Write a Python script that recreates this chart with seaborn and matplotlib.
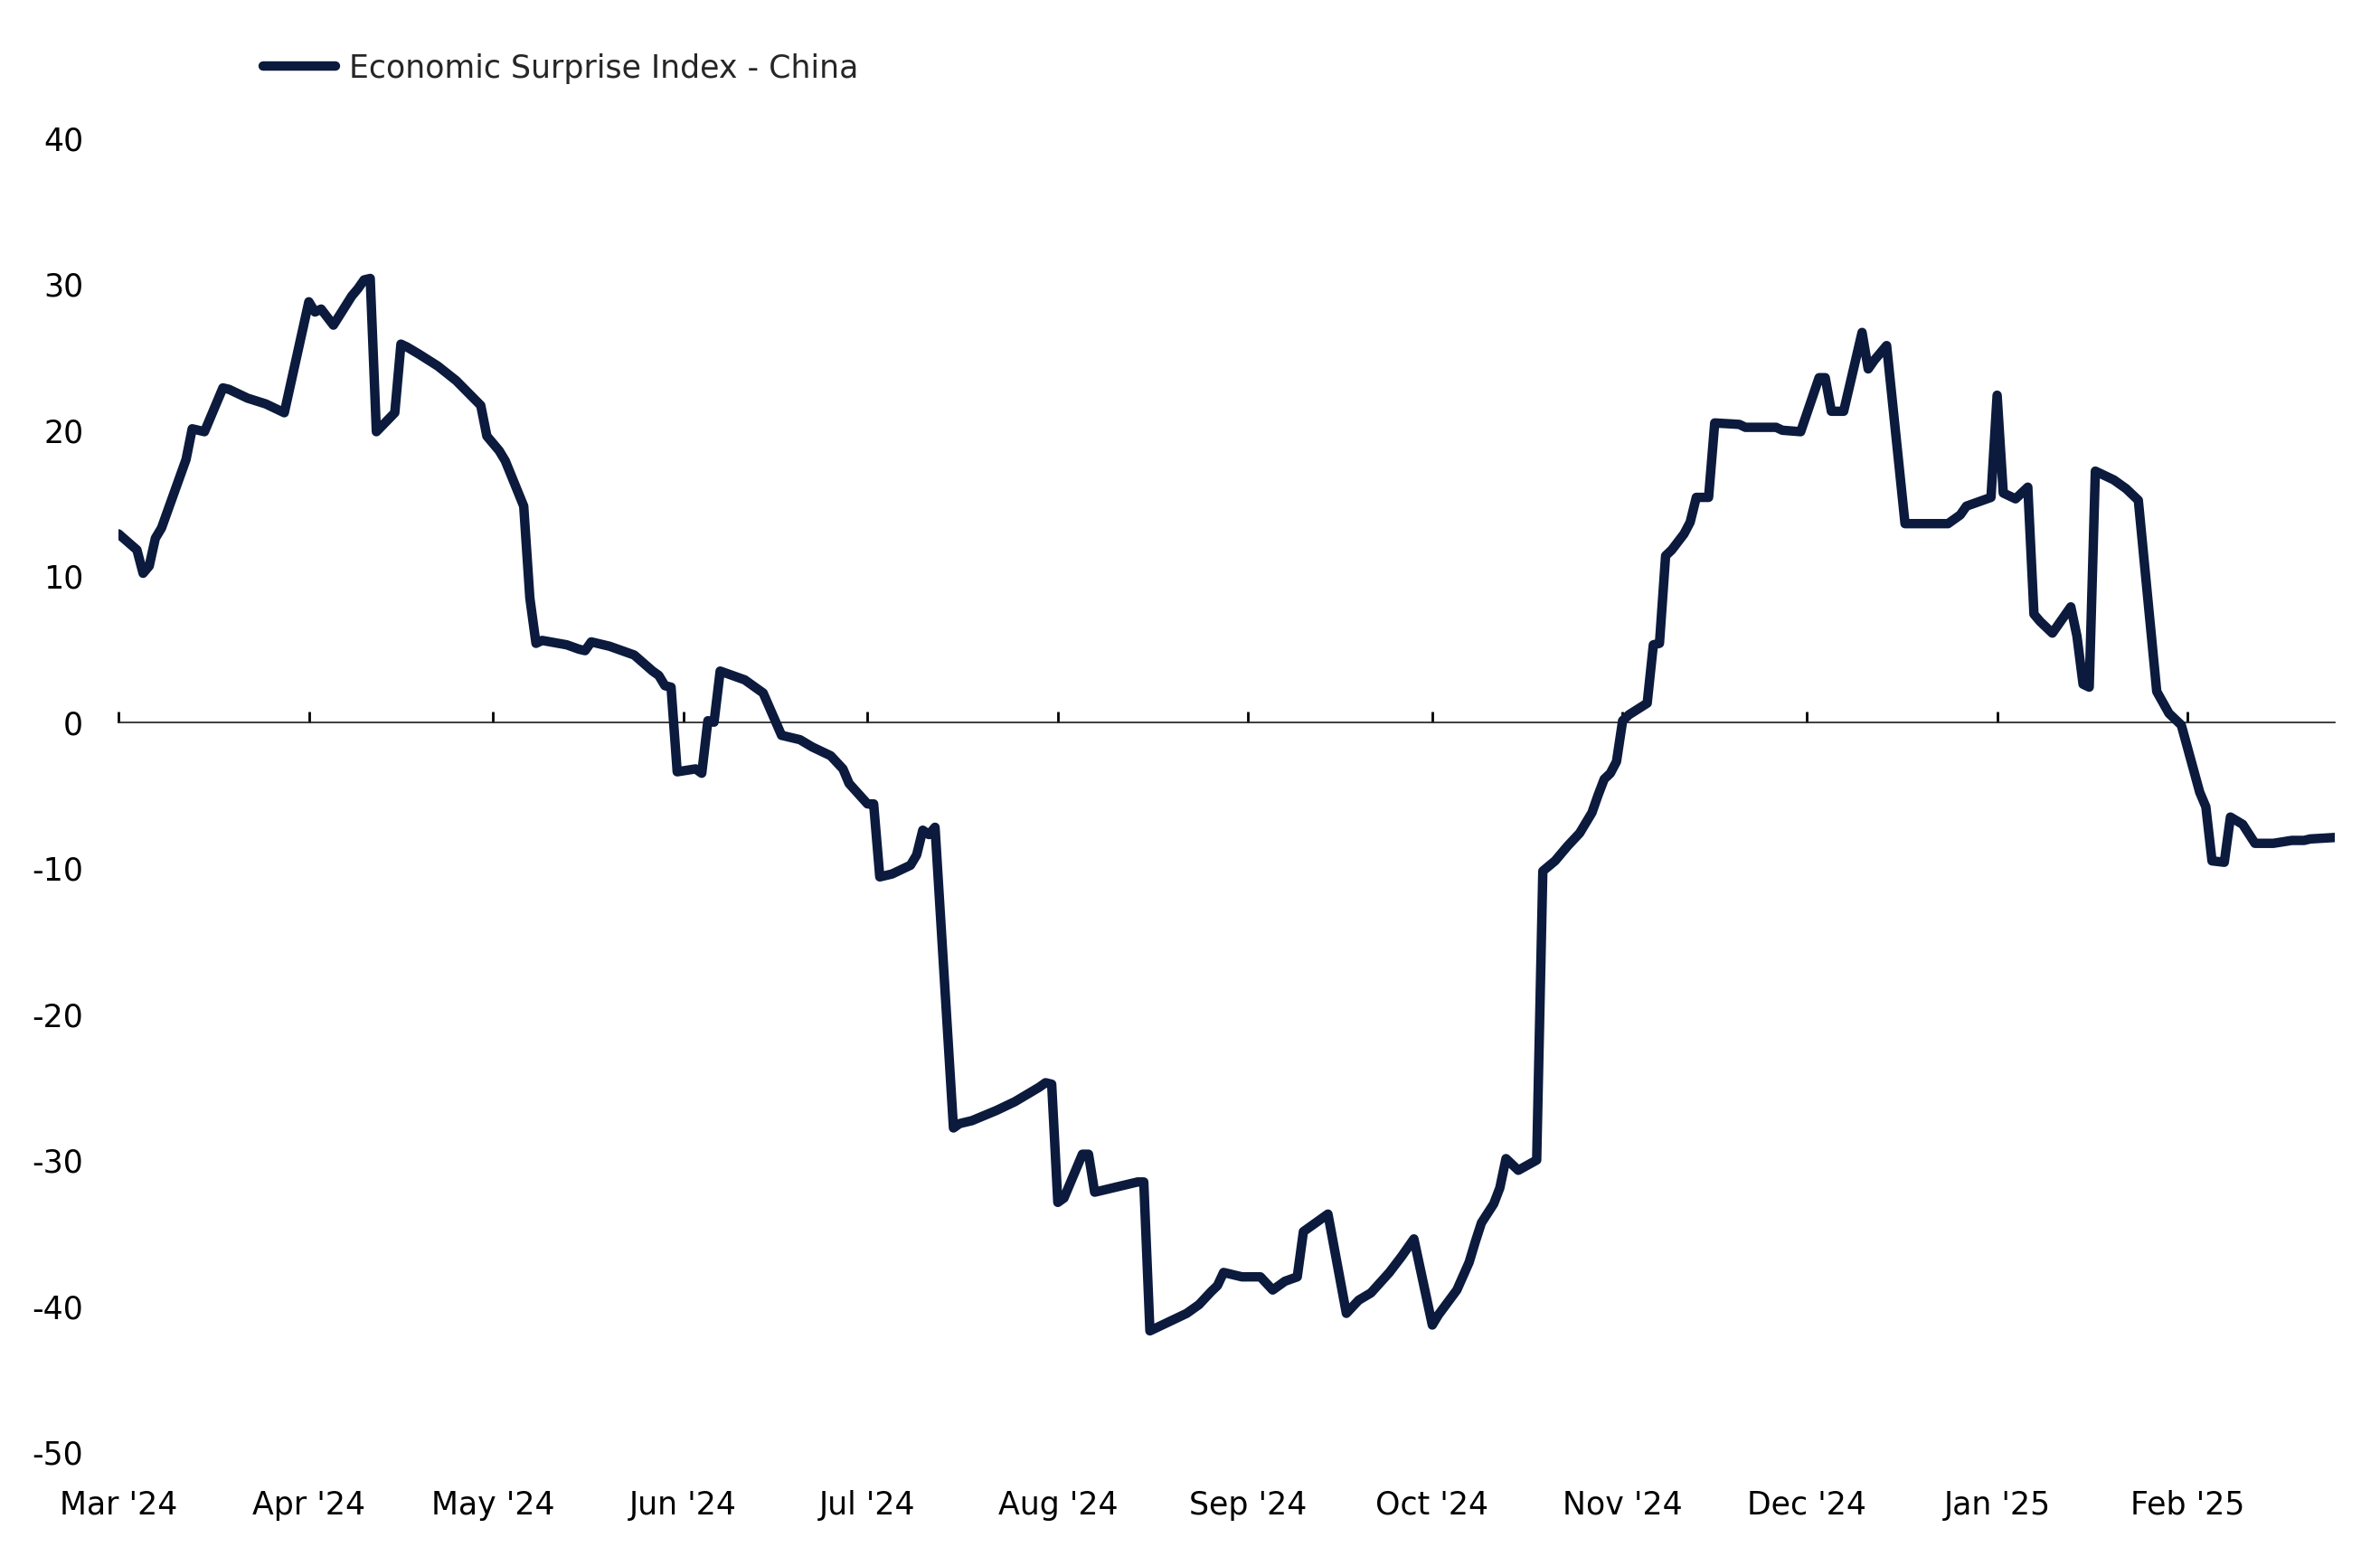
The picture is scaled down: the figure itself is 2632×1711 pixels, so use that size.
import pandas as pd
import matplotlib.pyplot as plt
import seaborn as sns

# 数据：折点
dates = [
    "2024-03-01", "2024-03-04", "2024-03-05", "2024-03-06", "2024-03-07", "2024-03-08",
    "2024-03-12", "2024-03-13", "2024-03-15", "2024-03-18", "2024-03-19", "2024-03-20",
    "2024-03-21", "2024-03-22", "2024-03-25", "2024-03-28", "2024-04-01", "2024-04-02",
    "2024-04-03", "2024-04-05", "2024-04-08", "2024-04-09", "2024-04-10", "2024-04-11",
    "2024-04-12", "2024-04-15", "2024-04-16", "2024-04-17", "2024-04-19", "2024-04-22",
    "2024-04-25", "2024-04-29", "2024-04-30", "2024-05-02", "2024-05-03", "2024-05-06",
    "2024-05-07", "2024-05-08", "2024-05-09", "2024-05-13", "2024-05-15", "2024-05-16",
    "2024-05-17", "2024-05-20", "2024-05-22", "2024-05-24", "2024-05-27", "2024-05-28",
    "2024-05-29", "2024-05-30", "2024-05-31", "2024-06-03", "2024-06-04", "2024-06-05",
    "2024-06-06", "2024-06-07", "2024-06-11", "2024-06-14", "2024-06-17", "2024-06-20",
    "2024-06-22", "2024-06-25", "2024-06-27", "2024-06-28", "2024-07-01", "2024-07-02",
    "2024-07-03", "2024-07-05", "2024-07-08", "2024-07-09", "2024-07-10", "2024-07-11",
    "2024-07-12", "2024-07-15", "2024-07-16", "2024-07-18", "2024-07-22", "2024-07-24",
    "2024-07-25", "2024-07-29", "2024-07-30", "2024-07-31", "2024-08-01", "2024-08-02",
    "2024-08-05", "2024-08-06", "2024-08-07", "2024-08-10", "2024-08-14", "2024-08-15",
    "2024-08-16", "2024-08-19", "2024-08-22", "2024-08-24", "2024-08-26", "2024-08-27",
    "2024-08-28", "2024-08-31", "2024-09-03", "2024-09-05", "2024-09-07", "2024-09-09",
    "2024-09-10", "2024-09-12", "2024-09-14", "2024-09-17", "2024-09-19", "2024-09-21",
    "2024-09-24", "2024-09-26", "2024-09-28", "2024-10-01", "2024-10-02", "2024-10-05",
    "2024-10-07", "2024-10-08", "2024-10-09", "2024-10-11", "2024-10-12", "2024-10-13",
    "2024-10-15", "2024-10-18", "2024-10-19", "2024-10-21", "2024-10-23", "2024-10-25",
    "2024-10-27", "2024-10-28", "2024-10-29", "2024-10-30", "2024-10-31", "2024-11-01",
    "2024-11-02", "2024-11-05", "2024-11-06", "2024-11-07", "2024-11-08", "2024-11-09",
    "2024-11-11", "2024-11-12", "2024-11-13", "2024-11-15", "2024-11-16", "2024-11-20",
    "2024-11-21", "2024-11-26", "2024-11-27", "2024-11-30", "2024-12-03", "2024-12-04",
    "2024-12-05", "2024-12-07", "2024-12-10", "2024-12-11", "2024-12-12", "2024-12-14",
    "2024-12-17", "2024-12-24", "2024-12-26", "2024-12-27", "2024-12-29", "2024-12-31",
    "2025-01-01", "2025-01-02", "2025-01-04", "2025-01-06", "2025-01-07", "2025-01-08",
    "2025-01-10", "2025-01-13", "2025-01-14", "2025-01-15", "2025-01-16", "2025-01-17",
    "2025-01-20", "2025-01-22", "2025-01-24", "2025-01-27", "2025-01-29", "2025-01-31",
    "2025-02-03", "2025-02-04", "2025-02-05", "2025-02-07", "2025-02-08", "2025-02-10",
    "2025-02-12", "2025-02-15", "2025-02-18", "2025-02-20", "2025-02-21", "2025-02-25",
]
values = [
    12.9, 11.8, 10.2, 10.7, 12.6, 13.3,
    18.0, 20.1, 19.9, 22.9, 22.8, 22.6,
    22.4, 22.2, 21.8, 21.2, 28.8, 28.1,
    28.3, 27.2, 29.2, 29.7, 30.3, 30.4,
    19.9, 21.2, 25.9, 25.7, 25.2, 24.4,
    23.4, 21.7, 19.6, 18.6, 17.9, 14.8,
    8.5, 5.4, 5.6, 5.3, 5.0, 4.9,
    5.5, 5.2, 4.9, 4.6, 3.5, 3.2,
    2.5, 2.4, -3.4, -3.2, -3.5, 0.1,
    0.0, 3.5, 2.9, 2.0, -0.9, -1.2,
    -1.7, -2.3, -3.2, -4.2, -5.6, -5.6,
    -10.6, -10.4, -9.8, -9.1, -7.4, -7.7,
    -7.2, -27.8, -27.5, -27.3, -26.6, -26.2,
    -26.0, -25.0, -24.7, -24.8, -32.9, -32.6,
    -29.6, -29.6, -32.2, -31.9, -31.5, -31.5,
    -41.7, -41.1, -40.5, -39.9, -39.0, -38.6,
    -37.7, -38.0, -38.0, -38.9, -38.3, -38.0,
    -34.9, -34.3, -33.7, -40.5, -39.6, -39.1,
    -37.7, -36.6, -35.4, -41.3, -40.6, -38.9,
    -37.0, -35.6, -34.3, -33.0, -31.9, -29.9,
    -30.7, -30.0, -10.2, -9.5, -8.5, -7.6,
    -6.2, -5.0, -3.9, -3.5, -2.7, 0.1,
    0.5, 1.3, 5.3, 5.4, 11.4, 11.8,
    12.9, 13.7, 15.4, 15.4, 20.5, 20.4,
    20.2, 20.2, 20.0, 19.9, 23.6, 23.6,
    21.3, 21.3, 26.7, 24.2, 24.8, 25.8,
    13.6, 13.6, 14.2, 14.8, 15.1, 15.4,
    22.4, 15.7, 15.3, 16.1, 7.4, 6.9,
    6.1, 7.9, 5.9, 2.6, 2.4, 17.2,
    16.6, 16.0, 15.2, 2.1, 0.6, -0.2,
    -4.8, -5.8, -9.5, -9.6, -6.5, -7.0,
    -8.3, -8.3, -8.1, -8.1, -8.0, -7.9,
]
series_name = "Economic Surprise Index - China"
month_ticks = pd.date_range("2024-03-01", "2025-02-01", freq="MS")
month_labels = [d.strftime("%b '%y") for d in month_ticks]
y_ticks = [40, 30, 20, 10, 0, -10, -20, -30, -40, -50]

df = pd.DataFrame({"date": pd.to_datetime(dates), "value": values, "series": series_name})

sns.set_theme(style="white")
plt.rcParams['font.family'] = ['DejaVu Sans']

line_color = "#0b1a3d"
font_size = 25

fig = plt.figure(figsize=(26.32, 17.11), dpi=100)
ax = fig.add_axes([0.0498, 0.0614, 0.9312, 0.8492])

sns.lineplot(data=df, x="date", y="value", hue="series", palette=[line_color],
             linewidth=7.5, ax=ax, legend=True,
             solid_capstyle="round", solid_joinstyle="round")

ax.set_xlim(pd.Timestamp("2024-03-01"), pd.Timestamp("2025-02-25"))
ax.set_ylim(-50, 40)
ax.set_xlabel("")
ax.set_ylabel("")
for s in ax.spines.values():
    s.set_visible(False)

ax.set_yticks(y_ticks)
ax.set_yticklabels([str(v) for v in y_ticks])
ax.tick_params(axis="y", length=0, pad=28, labelsize=font_size, labelcolor="black")

ax.set_xticks(month_ticks)
ax.set_xticklabels(month_labels)
ax.tick_params(axis="x", length=0, pad=30, labelsize=font_size, labelcolor="black")

# 零线与月份刻度
zero_frac = (0 - (-50)) / (40 - (-50))
sec = ax.secondary_xaxis(zero_frac)
sec.set_xticks(month_ticks)
sec.set_xticklabels([])
sec.tick_params(axis="x", direction="out", length=9, width=2, color="black")
sec.spines["bottom"].set_linewidth(2)
sec.spines["bottom"].set_color("black")

# 图例
handles, labels = ax.get_legend_handles_labels()
ax.get_legend().remove()
fig.legend(handles, labels, loc="center left", bbox_to_anchor=(0.1105, 0.9558),
           frameon=False, fontsize=font_size, handlelength=2.3, handletextpad=0.45,
           borderpad=0, borderaxespad=0)

fig.savefig("out.png", dpi=100)
plt.close(fig)
